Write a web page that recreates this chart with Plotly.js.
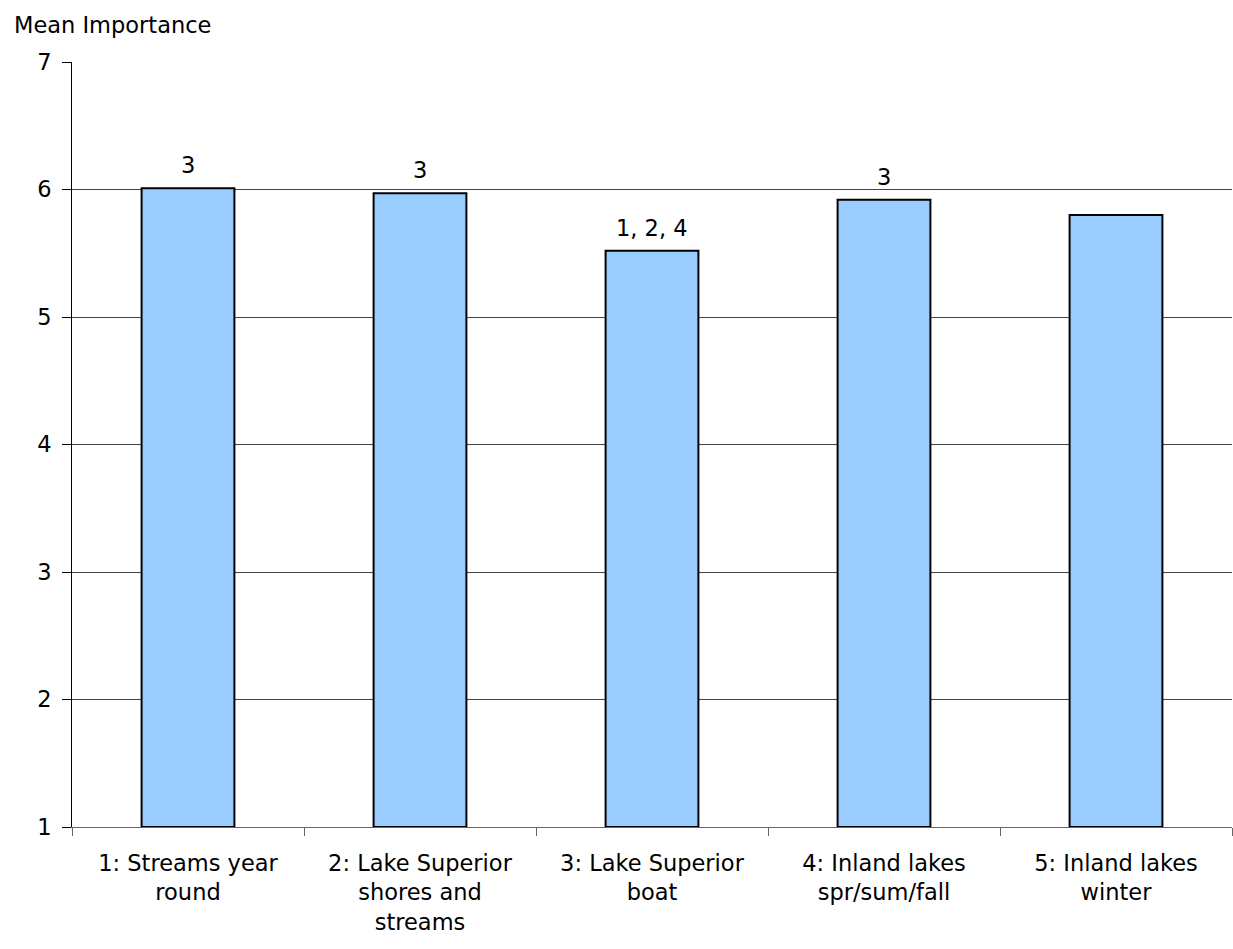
<!DOCTYPE html>
<html>
<head>
<meta charset="utf-8">
<script src="https://cdn.plot.ly/plotly-3.0.1.min.js"></script>
<style>html,body{margin:0;padding:0;background:#fff;}#chart{width:1233px;height:949px;}</style>
</head>
<body>
<div id="chart"></div>
<script>
const categories = ["1: Streams year<br>round", "2: Lake Superior<br>shores and<br>streams", "3: Lake Superior<br>boat", "4: Inland lakes<br>spr/sum/fall", "5: Inland lakes<br>winter"];
const meanImportance = [6.01, 5.97, 5.52, 5.92, 5.80];
const sigLabels = ["3", "3", "1, 2, 4", "3", ""];
const yTicks = [1, 2, 3, 4, 5, 6, 7];

const FONT = "DejaVu Sans, Verdana, sans-serif";
const FS = 22.5;

const trace = {
  type: "bar",
  x: categories,
  y: meanImportance.map(v => v - 1),
  base: 1,
  width: 0.4,
  marker: {color: "#99CCFF", line: {color: "#000000", width: 2}},
  hoverinfo: "skip"
};

const annotations = categories.map((c, i) => ({
  x: c, y: meanImportance[i], xref: "x", yref: "y",
  text: sigLabels[i], showarrow: false, yanchor: "bottom", yshift: 8,
  font: {family: FONT, size: FS, color: "#000"}
}));
annotations.push({
  xref: "paper", yref: "paper", x: -0.0513, y: 1.0, xanchor: "left", yanchor: "middle",
  yshift: 37, text: "Mean Importance", showarrow: false,
  font: {family: FONT, size: FS, color: "#000"}
});

const layout = {
  width: 1233, height: 949,
  margin: {l: 72, r: 1, t: 62, b: 122},
  paper_bgcolor: "#fff", plot_bgcolor: "#fff",
  showlegend: false,
  font: {family: FONT, size: FS, color: "#000"},
  xaxis: {
    type: "category", tickson: "boundaries", ticks: "outside", ticklen: 8,
    tickcolor: "#666", showline: true, linecolor: "#666", linewidth: 1,
    showgrid: false, tickfont: {family: FONT, size: FS, color: "#000"},
    ticklabelstandoff: 16,
    automargin: false
  },
  yaxis: {
    range: [1, 7], tickvals: yTicks, ticks: "outside", ticklen: 9, tickcolor: "#000",
    showline: true, linecolor: "#000", linewidth: 1,
    showgrid: true, gridcolor: "#444", gridwidth: 1, zeroline: false,
    ticklabelstandoff: 6,
    tickfont: {family: FONT, size: FS, color: "#000"}, automargin: false
  },
  annotations: annotations
};

Plotly.newPlot("chart", [trace], layout, {displayModeBar: false, staticPlot: true});
</script>
</body>
</html>
